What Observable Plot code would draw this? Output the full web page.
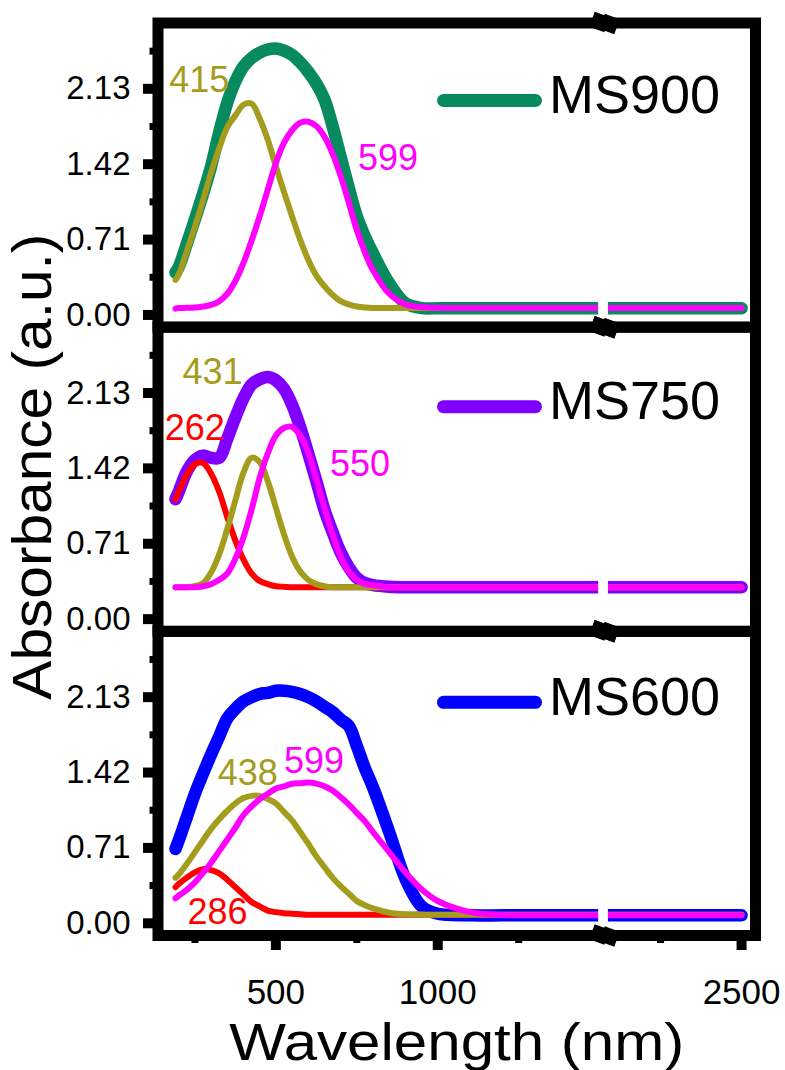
<!DOCTYPE html>
<html>
<head>
<meta charset="utf-8">
<script src="https://cdn.jsdelivr.net/npm/d3@7"></script>
<script src="https://cdn.jsdelivr.net/npm/@observablehq/plot@0.6"></script>
<style>
  html, body { margin: 0; padding: 0; background: #fff; }
  #chart svg { display: block; }
</style>
</head>
<body>
<div id="chart"></div>
<script>
// ---------- data ----------
const panels = ["MS900", "MS750", "MS600"];
const wavelengths = [190,200,225,250,275,300,325,350,375,400,425,450,475,500,525,550,575,600,625,650,675,700,725,750,775,800,
  850,900,950,1000,1100,1200,1300,1400,1500,2100,2300,2500];

const ms900Total = [0.40,0.45,0.67,0.90,1.14,1.40,1.72,2.00,2.20,2.34,2.42,2.47,2.50,2.51,2.49,2.45,2.38,2.29,2.18,2.03,1.78,1.49,1.20,0.93,0.74,0.58,
  0.30,0.11,0.065,0.063,0.063,0.063,0.063,0.063,0.063,0.063,0.063,0.063];
const ms900P415 = [0.33,0.38,0.60,0.83,1.08,1.34,1.57,1.77,1.88,1.98,1.99,1.85,1.65,1.40,1.16,0.93,0.71,0.52,0.37,0.27,0.19,0.13,0.10,0.08,0.07,0.065,
  0.065,0.065,0.065,0.065,0.065,0.065,0.065,0.065,0.065,0.065,0.065,0.065];
const ms900P599 = [0.06,0.065,0.067,0.07,0.08,0.094,0.13,0.20,0.32,0.49,0.70,0.93,1.18,1.43,1.62,1.74,1.81,1.82,1.78,1.68,1.52,1.31,1.06,0.80,0.59,0.42,
  0.20,0.10,0.075,0.067,0.065,0.065,0.065,0.065,0.065,0.065,0.065,0.065];

const ms750Total = [1.13,1.20,1.39,1.50,1.54,1.52,1.52,1.70,1.90,2.08,2.21,2.26,2.28,2.25,2.17,2.02,1.81,1.56,1.30,1.03,0.82,0.63,0.49,0.39,0.34,0.32,
  0.305,0.30,0.30,0.30,0.30,0.30,0.30,0.30,0.30,0.30,0.30,0.30];
const ms750P262 = [1.13,1.20,1.36,1.46,1.47,1.37,1.20,0.96,0.74,0.56,0.43,0.36,0.33,0.31,0.305,0.30,0.30,0.30,0.30,0.30,0.30,0.30,0.30,0.30,0.30,0.30,
  0.30,0.30,0.30,0.30,0.30,0.30,0.30,0.30,0.30,0.30,0.30,0.30];
const ms750P431 = [0.30,0.30,0.30,0.31,0.34,0.44,0.61,0.85,1.12,1.38,1.52,1.48,1.30,1.05,0.80,0.59,0.45,0.37,0.33,0.31,0.30,0.30,0.30,0.30,0.30,0.30,
  0.30,0.30,0.30,0.30,0.30,0.30,0.30,0.30,0.30,0.30,0.30,0.30];
const ms750P550 = [0.30,0.30,0.30,0.30,0.31,0.33,0.37,0.43,0.57,0.77,1.03,1.33,1.56,1.73,1.80,1.81,1.73,1.57,1.32,1.05,0.80,0.59,0.45,0.37,0.33,0.32,
  0.30,0.30,0.30,0.30,0.30,0.30,0.30,0.30,0.30,0.30,0.30,0.30];

const ms600Total = [0.70,0.78,1.00,1.22,1.41,1.59,1.76,1.93,2.02,2.09,2.13,2.16,2.17,2.19,2.19,2.18,2.16,2.13,2.09,2.04,1.99,1.92,1.86,1.67,1.46,1.28,
  0.86,0.42,0.16,0.09,0.075,0.075,0.075,0.075,0.075,0.075,0.075,0.075];
const ms600P286 = [0.34,0.37,0.43,0.48,0.51,0.50,0.47,0.41,0.34,0.27,0.20,0.16,0.12,0.105,0.095,0.09,0.085,0.08,0.08,0.08,0.08,0.08,0.08,0.08,0.08,0.08,
  0.08,0.08,0.08,0.08,0.08,0.08,0.08,0.08,0.08,0.08,0.08,0.08];
const ms600P438 = [0.43,0.46,0.56,0.67,0.78,0.89,0.98,1.06,1.13,1.18,1.20,1.20,1.17,1.13,1.05,0.97,0.86,0.75,0.63,0.53,0.43,0.35,0.28,0.21,0.17,0.14,
  0.10,0.085,0.082,0.08,0.08,0.08,0.08,0.08,0.08,0.08,0.08,0.08];
const ms600P599 = [0.235,0.26,0.315,0.385,0.475,0.57,0.68,0.79,0.90,1.02,1.10,1.17,1.22,1.27,1.29,1.315,1.32,1.325,1.315,1.29,1.25,1.19,1.12,1.04,0.96,0.86,
  0.67,0.48,0.32,0.21,0.105,0.078,0.075,0.075,0.075,0.075,0.075,0.075];

const yTicks = [0, 0.71, 1.42, 2.13];
const yMinorTicks = [0.355, 1.065, 1.775, 2.485];
const xTicks = [500, 1000, 2500];
const xMinorTicks = [250, 750, 1250, 2250];
const yTitle = "Absorbance (a.u.)";
const xTitle = "Wavelength (nm)";

// ---------- styles / layout ----------
const FONT = "'Liberation Sans', Arial, Helvetica, sans-serif";
const C = {green: "#068a5e", olive: "#a39c1d", magenta: "#ff00ff", red: "#ff0000", purple: "#7f00ff", blue: "#0000ff"};
const yDomain = [-0.115, 2.75];
const xDomain = [136, 1515, 2077, 2543];      // broken axis: 1515 -> 2077
const xRange = [157.5, 604, 604, 755];
const gapBand = [1497, 2089];
const THICK = 12.5, THIN = 6;

const series = [
  {panel: "MS900", values: ms900Total, color: C.green,  width: THICK},
  {panel: "MS900", values: ms900P415,  color: C.olive,  width: THIN, label: "415", dx: -49, dy: -23},
  {panel: "MS900", values: ms900P599,  color: C.magenta, width: THIN, label: "599", dx: 80, dy: 37},
  {panel: "MS750", values: ms750Total, color: C.purple, width: THICK},
  {panel: "MS750", values: ms750P262,  color: C.red,    width: THIN, label: "262", dx: -4, dy: -35},
  {panel: "MS750", values: ms750P431,  color: C.olive,  width: THIN, label: "431", dx: -41, dy: -85},
  {panel: "MS750", values: ms750P550,  color: C.magenta, width: THIN, label: "550", dx: 68, dy: 38},
  {panel: "MS600", values: ms600Total, color: C.blue,   width: THICK},
  {panel: "MS600", values: ms600P286,  color: C.red,    width: THIN, label: "286", dx: 11, dy: 43},
  {panel: "MS600", values: ms600P438,  color: C.olive,  width: THIN, label: "438", dx: -8, dy: -22},
  {panel: "MS600", values: ms600P599,  color: C.magenta, width: THIN, label: "599", dx: 6, dy: -21}
];
const legendStyle = {
  MS900: {color: C.green,  swatchDy: 77.5, textDy: 72.5},
  MS750: {color: C.purple, swatchDy: 79.5, textDy: 75},
  MS600: {color: C.blue,   swatchDy: 71,   textDy: 66}
};

// custom symbols
const capsule = {
  draw(ctx) {
    const w = 105, h = 13, r = h / 2, hw = w / 2 - r;
    ctx.moveTo(-hw, -r); ctx.lineTo(hw, -r);
    ctx.arc(hw, 0, r, -Math.PI / 2, Math.PI / 2);
    ctx.lineTo(-hw, r);
    ctx.arc(-hw, 0, r, Math.PI / 2, 3 * Math.PI / 2);
    ctx.closePath();
  }
};
const breakSymbol = {
  draw(ctx) {
    const s = 8, a = 20 * Math.PI / 180;
    for (const [cx, cy] of [[-5, -1], [5, 1]]) {
      const pts = [[-s, -s], [s, -s], [s, s], [-s, s]].map(([x, y]) =>
        [cx + x * Math.cos(a) - y * Math.sin(a), cy + x * Math.sin(a) + y * Math.cos(a)]);
      ctx.moveTo(pts[0][0], pts[0][1]);
      for (let i = 1; i < 4; i++) ctx.lineTo(pts[i][0], pts[i][1]);
      ctx.closePath();
    }
  }
};

const rowsOf = (panel, values) => wavelengths.map((w, i) => ({panel, wl: w, v: values[i]}));

const marks = [];
for (const s of series) {
  marks.push(Plot.line(rowsOf(s.panel, s.values), {
    x: "wl", y: "v", fy: "panel", stroke: s.color, strokeWidth: s.width,
    curve: "catmull-rom", strokeLinecap: "round", strokeLinejoin: "round"
  }));
}
// white gap of the axis break
marks.push(Plot.rect([{}], {x1: gapBand[0], x2: gapBand[1], y1: yDomain[0], y2: yDomain[1], fill: "white"}));
marks.push(Plot.frame({stroke: "black", strokeWidth: 11}));

// axes
marks.push(Plot.axisY({ticks: yMinorTicks, tickSize: 8, strokeWidth: 7, tickFormat: () => "", label: null}));
marks.push(Plot.axisY({ticks: yTicks, tickSize: 14.5, tickPadding: 13, strokeWidth: 10,
  tickFormat: d => d.toFixed(2), fontSize: 33, label: null}));
marks.push(Plot.axisX({ticks: xMinorTicks, tickSize: 8, strokeWidth: 7, tickFormat: () => "", label: null}));
marks.push(Plot.axisX({ticks: xTicks, tickSize: 15, tickPadding: 29, strokeWidth: 10,
  tickFormat: d => String(d), fontSize: 35, label: null}));

// break markers on every horizontal frame line
marks.push(Plot.dot(panels.flatMap(p => [{panel: p, y: yDomain[1]}, {panel: p, y: yDomain[0]}]), {
  x: xDomain[1], y: "y", fy: "panel", symbol: breakSymbol, fill: "black", stroke: "none"
}));

// legends
for (const p of panels) {
  const st = legendStyle[p];
  marks.push(Plot.dot([{panel: p}], {fy: "panel", frameAnchor: "top-left", dx: 331.5, dy: st.swatchDy,
    symbol: capsule, fill: st.color, stroke: "none"}));
  marks.push(Plot.text([{panel: p, name: p}], {fy: "panel", text: "name", frameAnchor: "top-left",
    textAnchor: "start", lineAnchor: "middle", dx: 391, dy: st.textDy, fontSize: 54, fill: "black"}));
}

// peak labels anchored at the labelled wavelength and the component maximum
for (const s of series.filter(s => s.label)) {
  marks.push(Plot.text([{panel: s.panel, wl: +s.label, v: d3.max(s.values), t: s.label}], {
    fy: "panel", x: "wl", y: "v", text: "t", fill: s.color, fontSize: 36,
    textAnchor: "middle", lineAnchor: "middle", dx: s.dx, dy: s.dy
  }));
}

// axis titles
marks.push(Plot.text([{panel: "MS750", t: yTitle}], {
  fy: "panel", text: "t", frameAnchor: "left", rotate: -90, textAnchor: "middle", lineAnchor: "middle",
  dx: -125, dy: -12.6, fontSize: 55, fill: "black"
}));
marks.push(Plot.text([{panel: "MS600", t: xTitle}], {
  fy: "panel", text: "t", frameAnchor: "bottom", textAnchor: "middle", lineAnchor: "middle",
  dy: 107.7, fontSize: 51, fill: "black"
}));

const chart = Plot.plot({
  width: 785,
  height: 1070,
  marginLeft: 157.5,
  marginRight: 30,
  marginTop: 22.5,
  marginBottom: 135,
  x: {type: "linear", domain: xDomain, range: xRange},
  y: {domain: yDomain},
  fy: {domain: panels, padding: 0, axis: null, label: null, round: false},
  style: {fontFamily: FONT, background: "white", color: "black"},
  marks
});

// stretch the two axis titles to the length they have in the figure
chart.querySelectorAll("text").forEach(t => {
  if (t.textContent === yTitle) { t.setAttribute("textLength", 466); t.setAttribute("lengthAdjust", "spacingAndGlyphs"); }
  if (t.textContent === xTitle) { t.setAttribute("textLength", 455); t.setAttribute("lengthAdjust", "spacingAndGlyphs"); }
});
document.getElementById("chart").appendChild(chart);
</script>
</body>
</html>
